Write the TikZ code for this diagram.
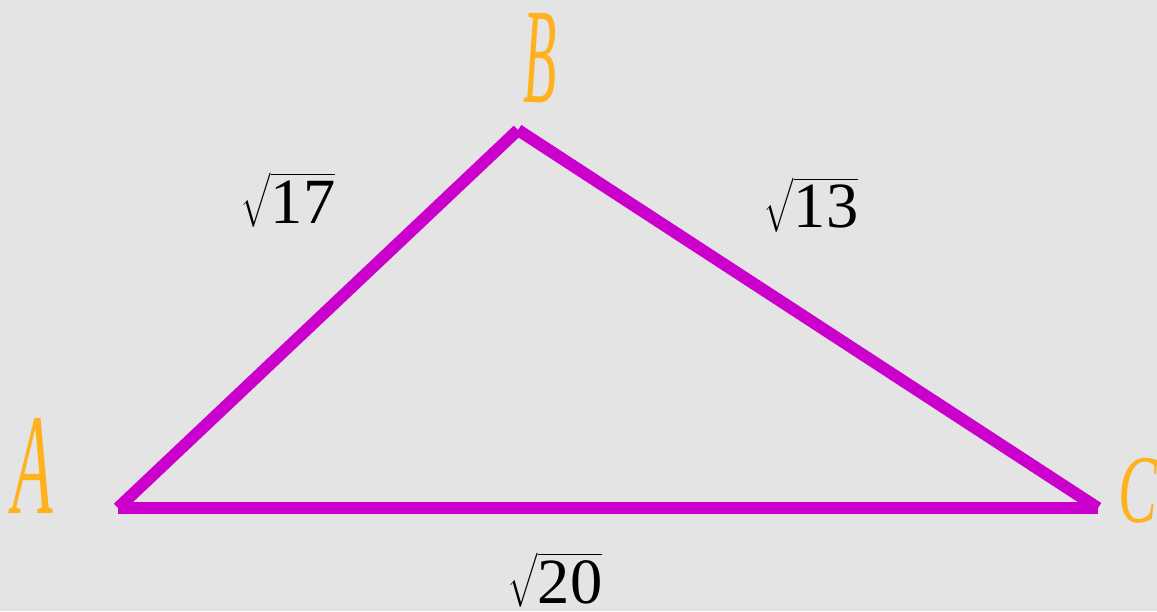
\documentclass[tikz,border=0pt]{standalone}
\usepackage{fontspec}
\setmainfont{Liberation Serif}
\definecolor{bgc}{RGB}{228,228,228}
\definecolor{edgec}{RGB}{204,0,204}
\definecolor{vtx}{RGB}{255,178,30}
\newcommand{\rootlabel}[1]{\scalebox{3}{$\sqrt{\hbox{\fontsize{21.5}{25}\selectfont #1}}$}}
\tikzset{
  edge/.style={draw=edgec, line width=12pt, line cap=butt},
  vlabel/.style={text=vtx, inner sep=0pt, font=\itshape},
  len/.style={inner sep=0pt}
}
\begin{document}
\begin{tikzpicture}[x=1pt,y=-1pt]
  \fill[bgc] (0,0) rectangle (1157,611);
  \useasboundingbox (0,0) rectangle (1157,611);
  \coordinate (A) at (118,508);
  \coordinate (B) at (518,130);
  \coordinate (C) at (1098,508);
  \draw[edge] (A) -- (B);
  \draw[edge] (B) -- (C);
  \draw[edge] (A) -- (C);
  \node[vlabel] (lA) at (33,466) {\scalebox{0.46}[1]{\fontsize{144}{150}\selectfont A}};
  \node[vlabel] (lB) at (540,58) {\scalebox{0.40}[1]{\fontsize{136}{140}\selectfont B}};
  \node[vlabel] (lC) at (1138,491) {\scalebox{0.6}[1]{\fontsize{97}{100}\selectfont C}};
  \node[len] (s17) at (288,200) {\rootlabel{17}};
  \node[len] (s13) at (811,205) {\rootlabel{13}};
  \node[len] (s20) at (555,580) {\rootlabel{20}};
\end{tikzpicture}
\end{document}
